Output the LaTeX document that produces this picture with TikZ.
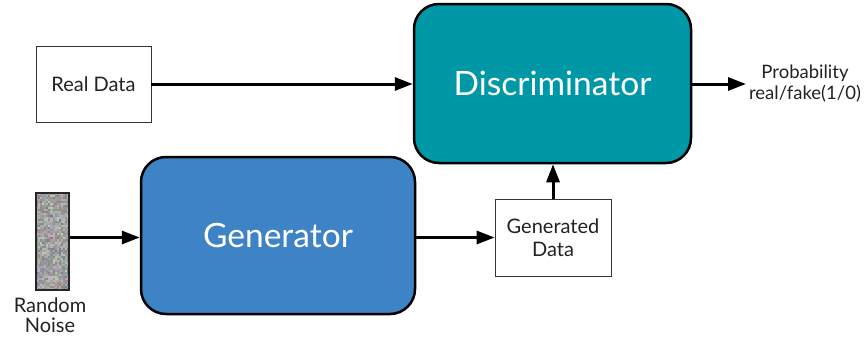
\documentclass[tikz,border=0pt]{standalone}
\usepackage{fontspec}
\setmainfont{Lato}
\usetikzlibrary{arrows.meta}
\definecolor{discteal}{HTML}{0098A6}
\definecolor{genblue}{HTML}{3D83C5}
\definecolor{inkgray}{HTML}{222222}

\begin{document}
\begin{tikzpicture}[x=1pt,y=-1pt,
  databox/.style={draw=black!80, line width=0.8pt, fill=white, inner sep=0pt,
    text=inkgray, font=\fontsize{20}{23}\selectfont, align=center},
  netbox/.style={draw=black, line width=2.5pt, rounded corners=25pt, inner sep=0pt,
    text=white, font=\fontsize{33.5}{38}\selectfont},
  flow/.style={line width=3pt, -{Triangle[length=18pt,width=13pt]}},
  caption/.style={text=inkgray, font=\fontsize{20}{20}\selectfont, align=center, inner sep=2pt}
]
\useasboundingbox (0,0) rectangle (867,340);

% blocks
\node[databox, minimum width=115pt, minimum height=76pt] (real) at (93.5,84) {Real Data};
\node[netbox, fill=discteal, minimum width=277pt, minimum height=159pt] (disc) at (552.5,83.5) {Discriminator};
\node[netbox, fill=genblue, minimum width=274pt, minimum height=157pt] (gen) at (278,235.5) {Generator};
\node[databox, minimum width=116pt, minimum height=77pt] (gdata) at (553,237.5) {Generated\\Data};

% random noise strip
\pgfmathsetseed{7}
\foreach \i in {0,...,15}{
  \foreach \j in {0,...,47}{
    \pgfmathsetmacro\base{0.52+0.22*rnd}
    \pgfmathsetmacro\rr{min(1,\base+0.14*(rnd-0.5))}
    \pgfmathsetmacro\gg{min(1,\base+0.14*(rnd-0.5))}
    \pgfmathsetmacro\bb{min(1,\base+0.16*(rnd-0.5))}
    \definecolor{nz}{rgb}{\rr,\gg,\bb}
    \fill[nz] (36+\i*2.0625,193+\j*2.0208) rectangle ++(2.0625,2.0208);
  }
}
\node[draw=black!85, line width=1.3pt, minimum width=33pt, minimum height=97pt, inner sep=0pt] (noise) at (52.5,241.5) {};
\node[caption] (noiselbl) at (50,315) {Random\\Noise};

% output label
\node[caption, font=\fontsize{18.5}{21}\selectfont, inner sep=0pt] (prob) at (805,84) {Probability\\real/fake(1/0)};
\coordinate (probin) at (746,84);

% connectors
\draw[flow] (real.east) -- (real.east -| disc.west);
\draw[flow] (disc.east |- probin) -- (probin);
\draw[flow] (noise.east |- gdata) -- (gen.west |- gdata);
\draw[flow] (gen.east |- gdata) -- (gdata.west);
\draw[flow] (gdata.north) -- (gdata.north |- disc.south);
\end{tikzpicture}
\end{document}
